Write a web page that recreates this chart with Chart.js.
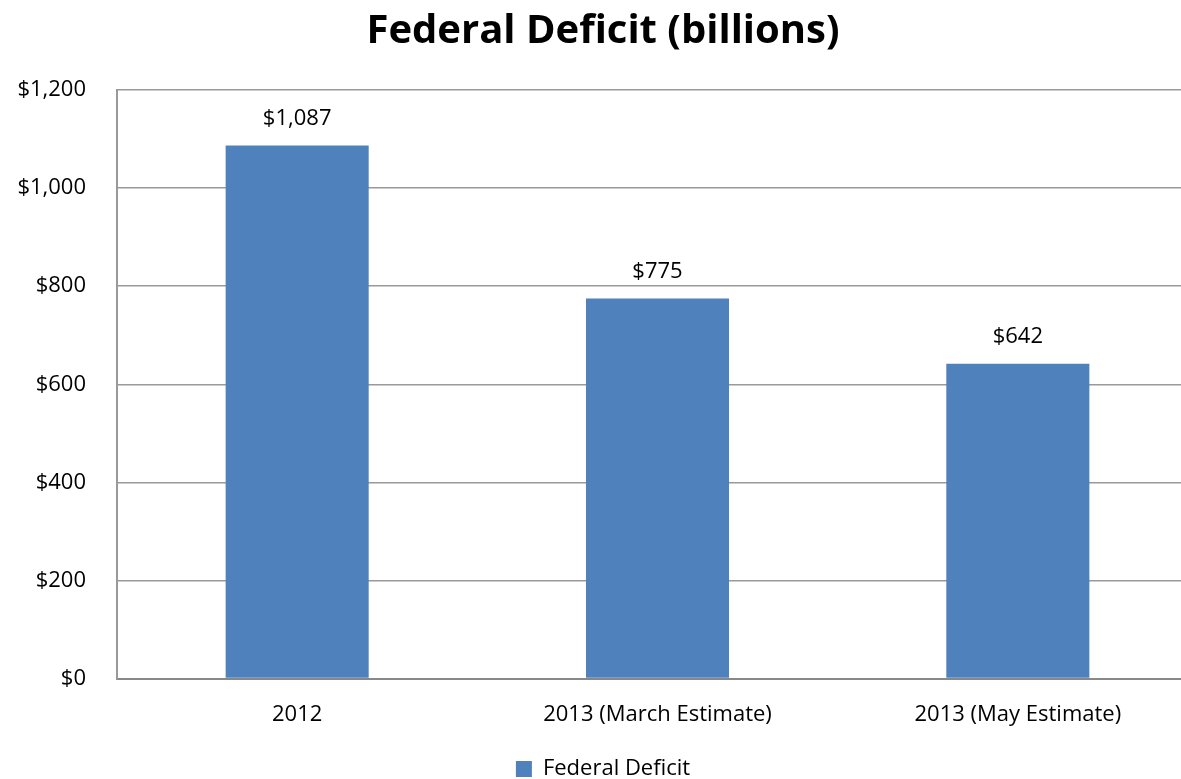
<!DOCTYPE html>
<html>
<head>
<meta charset="utf-8">
<script src="https://cdn.jsdelivr.net/npm/chart.js@4/dist/chart.umd.min.js"></script>
<style>
  html, body { margin: 0; padding: 0; background: #fff; overflow: hidden; }
  /* the plot runs a little past the right edge of the page */
  #wrap { width: 1181px; height: 779px; overflow: hidden; }
</style>
</head>
<body>
<div id="wrap"><canvas id="deficit" width="1198" height="779"></canvas></div>
<script>
var categories = ['2012', '2013 (March Estimate)', '2013 (May Estimate)'];
var deficit = [1087, 775, 642];
var seriesName = 'Federal Deficit';

var FONT = "'Open Sans', 'Liberation Sans', sans-serif";

function dollars(v) {
    return '$' + Number(v).toLocaleString('en-US');
}

// value labels above each bar
var barLabels = {
    id: 'barLabels',
    afterDatasetsDraw: function(chart) {
        var ctx = chart.ctx;
        var meta = chart.getDatasetMeta(0);
        ctx.save();
        ctx.font = '22px ' + FONT;
        ctx.fillStyle = '#000';
        ctx.textAlign = 'center';
        ctx.textBaseline = 'bottom';
        meta.data.forEach(function(bar, i) {
            ctx.fillText(dollars(deficit[i]), bar.x, bar.y - 16);
        });
        ctx.restore();
    }
};

var ctx = document.getElementById('deficit').getContext('2d');
var myChart = new Chart(ctx, {
    type: 'bar',
    data: {
        labels: categories,
        datasets: [{
            label: seriesName,
            data: deficit,
            backgroundColor: '#4F81BD',
            borderWidth: 0,
            categoryPercentage: 1.0,
            barPercentage: 0.397
        }]
    },
    options: {
        responsive: false,
        animation: false,
        layout: { padding: { left: 8, right: 0, top: 0, bottom: -11 } },
        plugins: {
            title: {
                display: true,
                text: 'Federal Deficit (billions)',
                color: '#000',
                font: { family: FONT, size: 40, weight: 'bold' },
                padding: { top: 8, bottom: 34 }
            },
            legend: {
                position: 'bottom',
                labels: {
                    color: '#000',
                    font: { family: FONT, size: 22 },
                    boxWidth: 16,
                    boxHeight: 16,
                    padding: 0
                }
            },
            tooltip: { enabled: false }
        },
        scales: {
            x: {
                grid: { display: false, drawTicks: false },
                border: { color: '#888', width: 2 },
                afterFit: function(scale) { scale.height += 7; },
                ticks: {
                    color: '#000',
                    font: { family: FONT, size: 22 },
                    padding: 23,
                    maxRotation: 0
                }
            },
            y: {
                min: 0,
                max: 1200,
                grid: { color: '#999', lineWidth: 1.5, drawTicks: false },
                border: { color: '#999', width: 2 },
                afterFit: function(scale) { scale.width = 109; },
                ticks: {
                    stepSize: 200,
                    color: '#000',
                    font: { family: FONT, size: 22 },
                    padding: 31,
                    callback: function(v) { return dollars(v); }
                }
            }
        }
    },
    plugins: [barLabels]
});
</script>
</body>
</html>
